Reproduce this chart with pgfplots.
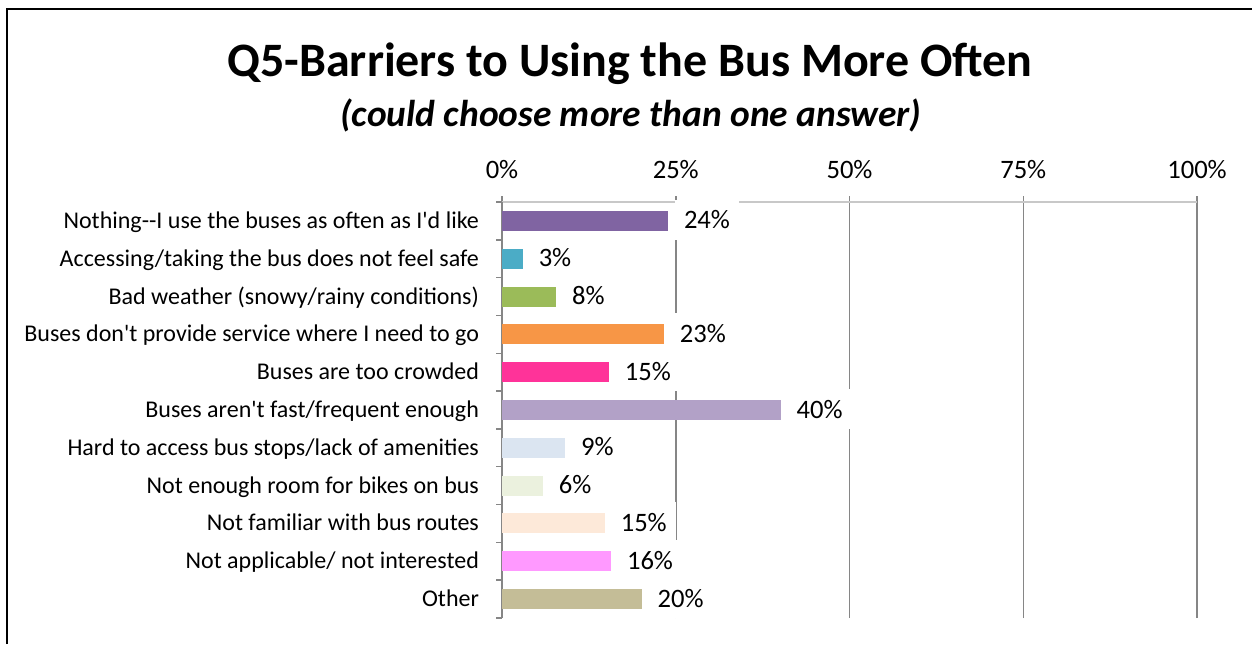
\documentclass[border=0pt]{standalone}
\usepackage{fontspec}
\setmainfont{Carlito}[Ligatures=TeXOff]
\usepackage{pgfplots}
\pgfplotsset{compat=1.18}

\definecolor{cA}{HTML}{8064A2}
\definecolor{cB}{HTML}{4BACC6}
\definecolor{cC}{HTML}{9BBB59}
\definecolor{cD}{HTML}{F79646}
\definecolor{cE}{HTML}{FF3399}
\definecolor{cF}{HTML}{B2A1C7}
\definecolor{cG}{HTML}{DBE5F1}
\definecolor{cH}{HTML}{EBF1DE}
\definecolor{cI}{HTML}{FDE9D9}
\definecolor{cJ}{HTML}{FF99FF}
\definecolor{cK}{HTML}{C4BD97}
\definecolor{gridgray}{HTML}{868686}
\definecolor{axisgray}{HTML}{C8C8C8}

\begin{document}
\begin{tikzpicture}
\useasboundingbox (0,0) rectangle (626pt,322pt);
\draw[line width=1pt] (3.5pt,0) -- (3.5pt,317.25pt) -- (626pt,317.25pt);
\node[font=\bfseries\fontsize{24}{28}\selectfont] at (315pt,290pt) {Q5-Barriers to Using the Bus More Often};
\node[font=\bfseries\itshape\fontsize{18.7}{22}\selectfont] at (315.5pt,264.5pt) {(could choose more than one answer)};

\begin{axis}[
  at={(251pt,13pt)}, anchor=south west,
  scale only axis, width=347.5pt, height=208pt,
  xbar, bar width=10pt, bar shift=0pt,
  xmin=0, xmax=100, ymin=-0.5, ymax=10.5,
  axis x line*=top, axis y line*=left,
  axis line style={-},
  x axis line style={draw=axisgray, line width=0.75pt},
  y axis line style={draw=gridgray, line width=0.75pt},
  xtick={0,25,50,75,100},
  xticklabels={0\%,25\%,50\%,75\%,100\%},
  xmajorgrids, major grid style={draw=gridgray, line width=0.75pt},
  tick align=outside, major tick length=3pt,
  tick style={draw=gridgray, line width=0.75pt},
  ytick={-0.5,0.5,...,10.5}, yticklabels={},
  extra y ticks={0,1,2,3,4,5,6,7,8,9,10},
  extra y tick style={major tick length=0pt, yticklabel style={anchor=base east, xshift=-8pt, yshift=-3.75pt}},
  extra y tick labels={Other,Not applicable/ not interested,Not familiar with bus routes,Not enough room for bikes on bus,Hard to access bus stops/lack of amenities,Buses aren't fast/frequent enough,Buses are too crowded,Buses don't provide service where I need to go,Bad weather (snowy/rainy conditions),Accessing/taking the bus does not feel safe,Nothing--I use the buses as often as I'd like},
  yticklabel style={font=\fontsize{12}{14}\selectfont},
  xticklabel style={font=\fontsize{13.3}{15}\selectfont, yshift=5pt},
  /pgf/number format/assume math mode=true,
  point meta=x,
  nodes near coords={\pgfmathprintnumber[fixed,precision=0]{\pgfplotspointmeta}\%},
  every node near coord/.append style={anchor=base west, fill=white, inner xsep=4.75pt, inner ysep=5.5pt, xshift=3pt, yshift=-4pt, font=\fontsize{13.3}{15}\selectfont, text=black},
]
\addplot[fill=cA, draw=none] coordinates {(23.9,10)};
\addplot[fill=cB, draw=none] coordinates {(3.0,9)};
\addplot[fill=cC, draw=none] coordinates {(7.8,8)};
\addplot[fill=cD, draw=none] coordinates {(23.3,7)};
\addplot[fill=cE, draw=none] coordinates {(15.4,6)};
\addplot[fill=cF, draw=none] coordinates {(40.1,5)};
\addplot[fill=cG, draw=none] coordinates {(9.1,4)};
\addplot[fill=cH, draw=none] coordinates {(5.9,3)};
\addplot[fill=cI, draw=none] coordinates {(14.8,2)};
\addplot[fill=cJ, draw=none] coordinates {(15.7,1)};
\addplot[fill=cK, draw=none] coordinates {(20.1,0)};
\end{axis}
\end{tikzpicture}
\end{document}
